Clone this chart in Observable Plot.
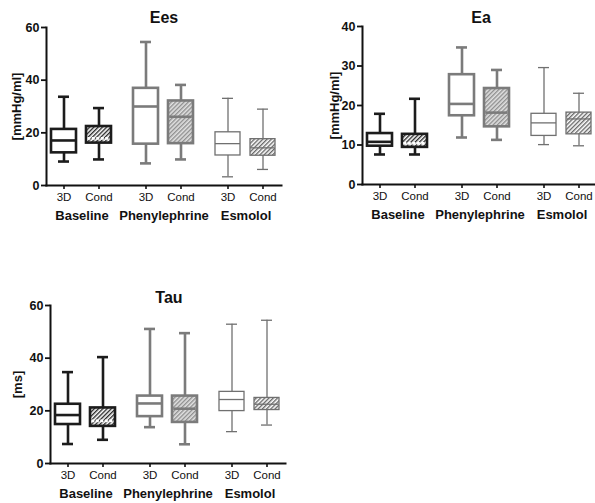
<!DOCTYPE html>
<html><head><meta charset="utf-8">
<script src="https://cdn.jsdelivr.net/npm/d3@7"></script>
<script src="https://cdn.jsdelivr.net/npm/@observablehq/plot@0.6"></script>
<style>
html,body{margin:0;padding:0;background:#fff;overflow:hidden;}
#root{position:relative;width:595px;height:503px;overflow:hidden;font-family:Arial,"Liberation Sans",sans-serif;}
.panel{position:absolute;width:293px;}
.panel svg{max-width:none !important;}
.title{position:absolute;width:120px;text-align:center;font-weight:bold;font-size:16px;line-height:20px;color:#111;}
</style></head><body><div id="root"></div>
<script>
const groups = ["Baseline", "Phenylephrine", "Esmolol"];
const methods = ["3D", "Cond"];

// order: Baseline 3D, Baseline Cond, Phenylephrine 3D, Phenylephrine Cond, Esmolol 3D, Esmolol Cond
const eesMax    = [33.7, 29.4, 54.5, 38.2, 33.1, 29.0];
const eesQ3     = [21.3, 22.4, 36.9, 32.1, 20.2, 17.6];
const eesMedian = [17.1, 17.9, 30.0, 26.1, 15.9, 14.3];
const eesQ1     = [12.4, 16.1, 15.7, 15.9, 11.4, 11.3];
const eesMin    = [9.1, 9.9, 8.4, 9.9, 3.3, 6.1];

const eaMax    = [17.9, 21.7, 34.7, 29.0, 29.6, 23.1];
const eaQ3     = [12.9, 12.7, 27.8, 24.3, 17.9, 18.2];
const eaMedian = [10.8, 10.4, 20.4, 18.2, 15.6, 16.6];
const eaQ1     = [9.7, 9.4, 17.4, 14.6, 12.3, 12.7];
const eaMin    = [7.6, 7.6, 11.9, 11.3, 10.1, 9.8];

const tauMax    = [34.7, 40.4, 51.1, 49.5, 52.9, 54.4];
const tauQ3     = [22.5, 21.1, 25.6, 25.6, 27.2, 24.9];
const tauMedian = [18.4, 16.2, 22.8, 20.8, 24.3, 22.5];
const tauQ1     = [14.8, 14.1, 17.8, 15.6, 19.9, 20.3];
const tauMin    = [7.4, 9.0, 13.8, 7.3, 12.1, 14.6];

const eesTicks = [0, 20, 40, 60];
const eaTicks = [0, 10, 20, 30, 40];
const tauTicks = [0, 20, 40, 60];

const groupStyle = {
  Baseline:      {stroke: "#1c1c1c", sw: 2.6, hatchBg: "#ffffff", hatchLine: "#1c1c1c", median: "#ffffff", dash: "3 1.5"},
  Phenylephrine: {stroke: "#7b7b7b", sw: 2.6, hatchBg: "#e2e2e2", hatchLine: "#8a8a8a", median: "#7b7b7b", dash: null},
  Esmolol:       {stroke: "#707070", sw: 1.3, hatchBg: "#ffffff", hatchLine: "#5e5e5e", median: "#707070", dash: null}
};

function makePanel(key, stats, ticks, yLabel, pos) {
  const rows = stats.max.map((_, i) => ({
    group: groups[Math.floor(i / 2)], method: methods[i % 2],
    min: stats.min[i], q1: stats.q1[i], med: stats.med[i], q3: stats.q3[i], max: stats.max[i]
  }));
  const marks = [];
  groups.forEach((g, gi) => {
    const st = groupStyle[g];
    const sub = rows.filter(d => d.group === g);
    const s3 = sub.filter(d => d.method === "3D");
    const sc = sub.filter(d => d.method === "Cond");
    const common = {fx: "group", x: "method", stroke: st.stroke, strokeWidth: st.sw};
    marks.push(
      Plot.ruleX(sub, {...common, y1: "min", y2: "max"}),
      Plot.tickY(sub, {...common, y: "min", insetLeft: 7, insetRight: 7}),
      Plot.tickY(sub, {...common, y: "max", insetLeft: 7, insetRight: 7}),
      Plot.barY(s3, {...common, y1: "q1", y2: "q3", fill: "white"}),
      Plot.barY(sc, {...common, y1: "q1", y2: "q3", fill: `url(#${key}-hatch-${gi})`}),
      Plot.tickY(s3, {...common, y: "med"}),
      Plot.tickY(sc, {...common, y: "med", stroke: st.median, strokeDasharray: st.dash, insetLeft: st.sw / 2, insetRight: st.sw / 2})
    );
  });
  marks.push(
    Plot.frame({anchor: "left", facet: "super", stroke: "#111", strokeWidth: 2}),
    Plot.frame({anchor: "bottom", facet: "super", stroke: "#111", strokeWidth: 2}),
    Plot.axisY(ticks, {tickSize: 5, tickPadding: 2, fontSize: 12.5, fontWeight: "bold", strokeWidth: 1.8, label: null}),
    Plot.text([yLabel], {fx: () => groups[0], text: d => d, frameAnchor: "left", textAnchor: "middle", rotate: -90, dx: pos.labelDx, fontSize: 13, fontWeight: "bold"}),
    Plot.axisX({tickSize: 4, tickPadding: 3, fontSize: 11.5, strokeWidth: 1.6, label: null}),
    Plot.text(groups, {fx: d => d, text: d => d, frameAnchor: "bottom", dy: 34, fontSize: 13, fontWeight: "bold"})
  );
  const svg = Plot.plot({
    width: 293, height: 226,
    marginLeft: 45, marginRight: 10, marginTop: 20, marginBottom: 48,
    style: {fontFamily: "Arial, 'Liberation Sans', sans-serif", color: "#111", background: "transparent", overflow: "visible", maxWidth: "none"},
    fx: {domain: groups, paddingInner: 0.1325, paddingOuter: 0, axis: null, label: null},
    x: {domain: methods, paddingInner: 0.278, paddingOuter: 0.139, axis: null},
    y: {domain: [ticks[0], ticks[ticks.length - 1]], axis: null},
    marks
  });
  const defs = d3.select(svg).insert("defs", ":first-child");
  groups.forEach((g, gi) => {
    const st = groupStyle[g];
    const p = defs.append("pattern").attr("id", `${key}-hatch-${gi}`)
      .attr("patternUnits", "userSpaceOnUse").attr("width", 3).attr("height", 3)
      .attr("patternTransform", "rotate(45)");
    p.append("rect").attr("width", 3).attr("height", 3).attr("fill", st.hatchBg);
    p.append("line").attr("x1", 0.7).attr("y1", 0).attr("x2", 0.7).attr("y2", 3)
      .attr("stroke", st.hatchLine).attr("stroke-width", 1.3);
  });
  const wrap = document.createElement("div");
  wrap.className = "panel";
  wrap.style.left = pos.left + "px";
  wrap.style.top = pos.top + "px";
  wrap.appendChild(svg);
  document.getElementById("root").appendChild(wrap);
  const t = document.createElement("div");
  t.className = "title";
  t.textContent = pos.title;
  t.style.left = (pos.tx - 60) + "px";
  t.style.top = (pos.ty - 10) + "px";
  document.getElementById("root").appendChild(t);
}

makePanel("ees", {max: eesMax, q3: eesQ3, med: eesMedian, q1: eesQ1, min: eesMin}, eesTicks, "[mmHg/ml]",
  {left: 0, top: 7, title: "Ees", tx: 164, ty: 18, labelDx: -30});
makePanel("ea", {max: eaMax, q3: eaQ3, med: eaMedian, q1: eaQ1, min: eaMin}, eaTicks, "[mmHg/ml]",
  {left: 316, top: 6, title: "Ea", tx: 481, ty: 18, labelDx: -28});
makePanel("tau", {max: tauMax, q3: tauQ3, med: tauMedian, q1: tauQ1, min: tauMin}, tauTicks, "[ms]",
  {left: 4, top: 285, title: "Tau", tx: 169, ty: 298, labelDx: -33});
</script>
</body></html>
